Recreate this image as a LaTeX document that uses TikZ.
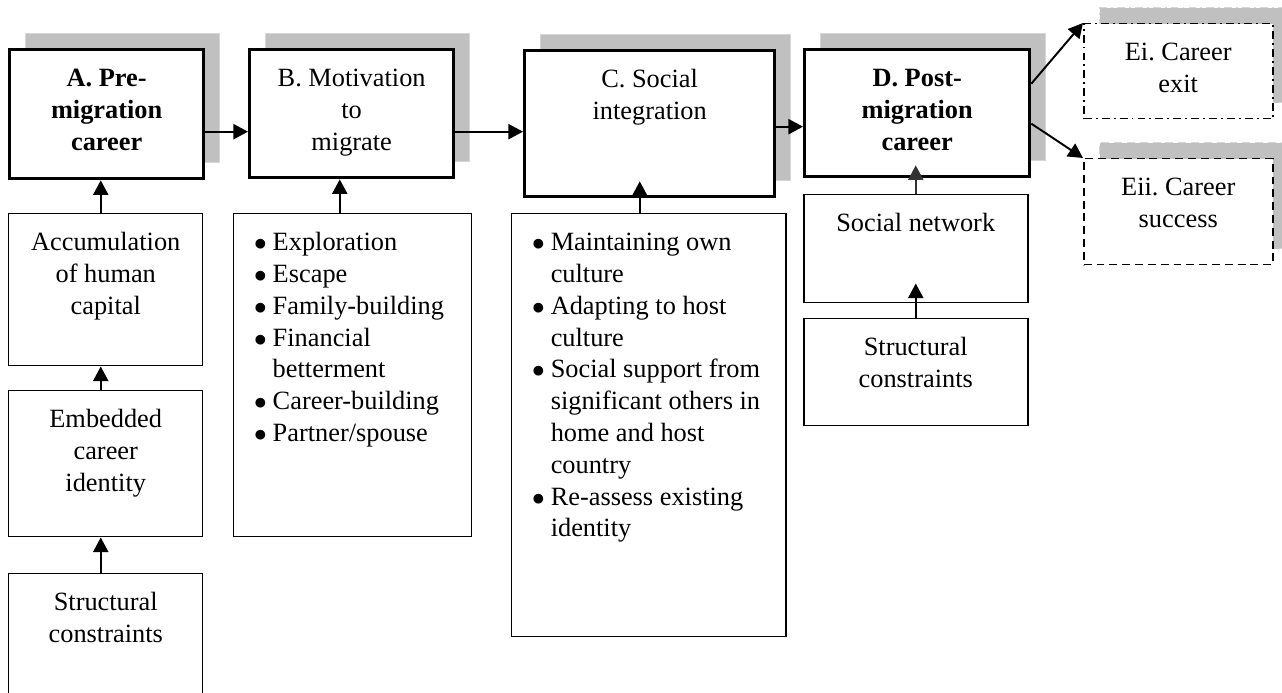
\documentclass[tikz,border=0pt]{standalone}
\usepackage{fontspec}
\setmainfont{Liberation Serif}
\usetikzlibrary{arrows.meta,shadows}
\definecolor{shadegray}{HTML}{C0C0C0}
\definecolor{shadeedge}{HTML}{D6D6D6}
\newlength{\pxl}\setlength{\pxl}{0.02cm}
\frenchspacing
% text inside a box: width, height (in px), content
\newcommand{\cellbox}[3]{\parbox[c][#2\pxl][t]{#1\pxl}{\centering\rule{0pt}{37\pxl}#3}}
\newcommand{\listbox}[3]{\parbox[c][#2\pxl][t]{#1\pxl}{\raggedright\leftskip=31\pxl #3}}
\newcommand{\itm}{\par\noindent\llap{$\bullet$\hspace{6\pxl}}}

\begin{document}
\begin{tikzpicture}[x=0.02cm,y=-0.02cm,->,>={Triangle[length=8.3pt,width=8.6pt]},
    line width=1.1pt,
    font=\fontsize{15}{18.1}\selectfont,
    box/.style={draw,fill=white,inner xsep=8\pxl,inner ysep=0pt,anchor=north west,line width=0.85pt},
    shade/.style={drop shadow={shadow xshift=16\pxl,shadow yshift=16\pxl,fill=shadegray,draw=shadeedge,line width=0.5pt,opacity=1}},
    stage/.style={box,shade,line width=1.9pt},
    outcome/.style={box,shade}]
  \useasboundingbox (0,0) rectangle (1282,693);

  % main stages
  \node[stage] (a) at (8,48) {\cellbox{178}{129}{\textbf{A. Pre-\\migration\\career}}};
  \node[stage] (b) at (248,48) {\cellbox{188}{128}{B. Motivation\\to\\migrate}};
  \node[stage] (c) at (523,49) {\cellbox{234}{146}{C. Social\\integration}};
  \node[stage] (d) at (803,48) {\cellbox{209}{127}{\textbf{D. Post-\\migration\\career}}};

  % outcomes
  \node[outcome,dash pattern=on 4.5pt off 2.3pt on 1.1pt off 2.3pt] (ei) at (1083,23)
    {\cellbox{173}{95}{Ei. Career\\exit}};
  \node[outcome,dash pattern=on 4.5pt off 2.8pt] (eii) at (1083,158)
    {\cellbox{173}{106}{Eii. Career\\success}};

  % inputs
  \node[box] (acc) at (8,213) {\cellbox{178}{152}{Accumulation\\of human\\capital}};
  \node[box] (emb) at (8,390) {\cellbox{178}{146}{Embedded\\career\\identity}};
  \node[box] (stra) at (8,573) {\cellbox{178}{150}{Structural\\constraints}};
  \node[box] (blist) at (233,213) {\listbox{222}{323}{%
    \itm\rule{0pt}{37\pxl}Exploration
    \itm Escape
    \itm Family-building
    \itm Financial\\betterment
    \itm Career-building
    \itm Partner/spouse}};
  \node[box] (clist) at (511,213) {\listbox{258}{423}{%
    \itm\rule{0pt}{37\pxl}Maintaining own\\culture
    \itm Adapting to host\\culture
    \itm Social support from\\significant others in\\home and host\\country
    \itm Re-assess existing\\identity}};
  \node[box] (sn) at (803,194) {\cellbox{208}{108}{Social network}};
  \node[box] (strd) at (803,318) {\cellbox{208}{107}{Structural\\constraints}};

  % links
  \draw ([yshift=-0.35cm]a.east) -- ([yshift=-0.35cm]a.east -| b.west);
  \draw ([yshift=-0.36cm]b.east) -- ([yshift=-0.36cm]b.east -| c.west);
  \draw ([yshift=-0.06cm]c.east) -- ([yshift=-0.06cm]c.east -| d.west);
  \draw ([yshift=0.59cm]d.east) -- (ei.north west);
  \draw ([yshift=-0.21cm]d.east) -- (eii.north west);
  \draw ([xshift=-0.1cm]acc.north) -- ([xshift=-0.1cm]acc.north |- a.south);
  \draw ([xshift=-0.1cm]emb.north) -- ([xshift=-0.1cm]emb.north |- acc.south);
  \draw ([xshift=-0.1cm]stra.north) -- ([xshift=-0.1cm]stra.north |- emb.south);
  \draw ([xshift=-0.26cm]blist.north) -- ([xshift=-0.26cm]blist.north |- b.south);
  \draw ([xshift=-0.18cm]clist.north) -- ([xshift=-0.18cm,yshift=0.34cm]clist.north |- c.south);
  \draw[black!80] (sn.north) -- ([yshift=0.26cm]sn.north |- d.south);
  \draw (strd.north) -- ([yshift=0.4cm]strd.north |- sn.south);
\end{tikzpicture}
\end{document}
